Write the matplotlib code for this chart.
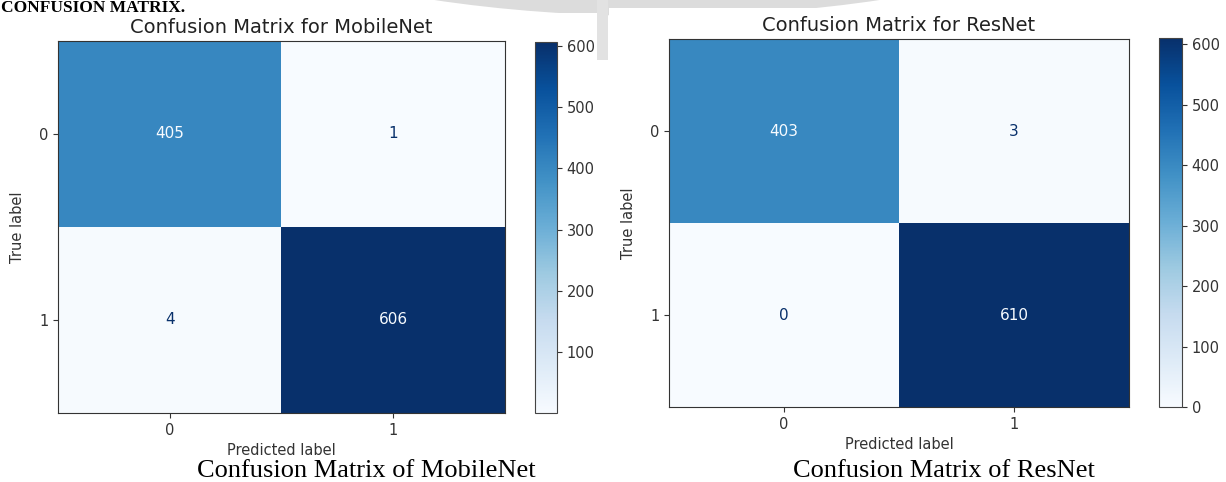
import numpy as np
import matplotlib
matplotlib.use("Agg")
import matplotlib.pyplot as plt
from matplotlib.patches import Ellipse, Rectangle

# confusion matrices
class_labels = ["0", "1"]
mobilenet_cm = [[405, 1],
                [4, 606]]
resnet_cm = [[403, 3],
             [0, 610]]
titles = ["Confusion Matrix for MobileNet", "Confusion Matrix for ResNet"]
captions = ["Confusion Matrix of MobileNet", "Confusion Matrix of ResNet"]
header = "CONFUSION MATRIX."

W, H = 1226, 482
fig = plt.figure(figsize=(W / 100, H / 100), dpi=100)
fig.patch.set_facecolor("white")


def px_box(x0, y0, x1, y1):
    # pixel box (top-left origin) -> figure fraction rect
    return [x0 / W, 1 - y1 / H, (x1 - x0) / W, (y1 - y0) / H]


# page layer: watermark arc, gap between the two pasted images, captions
page = fig.add_axes([0, 0, 1, 1], zorder=-1)
page.set_xlim(0, W)
page.set_ylim(H, 0)
page.axis("off")
page.add_patch(Ellipse((657, -200), 1180, 432, color="#dcdcdc", lw=0))
page.add_patch(Rectangle((597, 0), 11, 60, color="#e2e2e2", lw=0))
page.add_patch(Rectangle((0, 13), 597, H, color="white", lw=0))
page.add_patch(Rectangle((609, 8), W - 609, H, color="white", lw=0))
page.text(1, 12, header, family="Liberation Serif", weight="bold",
          fontsize=12.5, va="baseline", ha="left")
page.text(366, 477, captions[0], family="Liberation Serif", fontsize=19,
          ha="center", va="baseline")
page.text(944, 477, captions[1], family="Liberation Serif", fontsize=19,
          ha="center", va="baseline")


def draw_cm(cm, title, ax_box, cbar_box):
    cm = np.array(cm)
    ax = fig.add_axes(px_box(*ax_box))
    cax = fig.add_axes(px_box(*cbar_box))
    cmap = plt.get_cmap("Blues")
    im = ax.imshow(cm, cmap=cmap, aspect="auto", interpolation="nearest")
    thresh = (cm.max() + cm.min()) / 2.0
    for i in range(cm.shape[0]):
        for j in range(cm.shape[1]):
            color = cmap(0.0) if cm[i, j] > thresh else cmap(1.0)
            ax.text(j, i, str(cm[i, j]), ha="center", va="center",
                    color=color, fontsize=11)
    ax.set_xticks(range(len(class_labels)), class_labels, fontsize=10.5)
    ax.set_yticks(range(len(class_labels)), class_labels, fontsize=10.5)
    ax.tick_params(colors="#333333")
    ax.set_xlabel("Predicted label", fontsize=10.5, color="#333333")
    ax.set_ylabel("True label", fontsize=10.5, labelpad=10, color="#333333")
    ax.set_title(title, fontsize=14, color="#222222")
    for s in ax.spines.values():
        s.set_edgecolor("#333333")
    cb = fig.colorbar(im, cax=cax)
    cb.ax.tick_params(labelsize=10.5, colors="#333333")
    cb.outline.set_edgecolor("#444444")
    return ax


draw_cm(mobilenet_cm, titles[0], (58, 41, 505, 413), (535, 42, 557, 413))
draw_cm(resnet_cm, titles[1], (669, 39, 1129, 407), (1159, 38, 1182, 407))

fig.savefig("out.png", dpi=100)
